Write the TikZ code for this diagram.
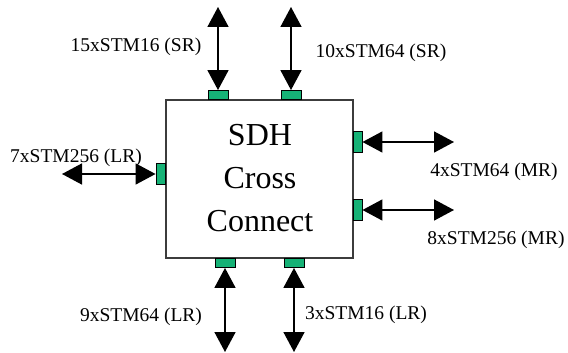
\documentclass[tikz,border=0pt]{standalone}
\usepackage{fontspec}
\setmainfont{Liberation Serif}
\usetikzlibrary{arrows.meta}
\definecolor{portgreen}{RGB}{22,178,118}
\definecolor{boxline}{RGB}{60,60,60}
\tikzset{
  port/.style={draw=black, line width=0.9pt, fill=portgreen, inner sep=0pt},
  hport/.style={port, minimum width=20pt, minimum height=9pt},
  vport/.style={port, minimum width=9pt, minimum height=21pt},
  link/.style={line width=1.6pt, {Triangle[length=20pt,width=21pt]}-{Triangle[length=20pt,width=21pt]}},
  lbl/.style={font=\fontsize{19.5}{21}\selectfont, inner sep=0pt},
  mainbox/.style={draw=boxline, line width=1.6pt, fill=white}
}
\begin{document}
\begin{tikzpicture}[x=1pt, y=-1pt]
\useasboundingbox (0,0) rectangle (568,353);
% main box
\node[mainbox, minimum width=187pt, minimum height=158pt, inner sep=0pt] (box) at (259.5,179) {};
\node[font=\fontsize{32}{43}\selectfont, align=center, inner sep=0pt] (title) at (260,178) {SDH\\Cross\\Connect};
% ports
\node[hport] (t1) at (218,95) {};
\node[hport] (t2) at (291,95) {};
\node[vport] (l1) at (160.5,174) {};
\node[vport] (r1) at (357.5,142) {};
\node[vport] (r2) at (357.5,210) {};
\node[hport] (b1) at (225,263) {};
\node[hport] (b2) at (294,263) {};
% free ends
\coordinate (et1) at (218,7);
\coordinate (et2) at (291,7);
\coordinate (el1) at (62,174);
\coordinate (er1) at (454,142);
\coordinate (er2) at (454,210);
\coordinate (eb1) at (225,352);
\coordinate (eb2) at (294,352);
% connectors
\draw[link] (t1.north) -- (et1);
\draw[link] (t2.north) -- (et2);
\draw[link] (l1.west) -- (el1);
\draw[link] (r1.east) -- (er1);
\draw[link] (r2.east) -- (er2);
\draw[link] (b1.south) -- (eb1);
\draw[link] (b2.south) -- (eb2);
% labels
\node[lbl] (lt1) at (136,47) {15xSTM16 (SR)};
\node[lbl] (lt2) at (381,53) {10xSTM64 (SR)};
\node[lbl] (ll1) at (76,158) {7xSTM256 (LR)};
\node[lbl] (lr1) at (494,172) {4xSTM64 (MR)};
\node[lbl] (lr2) at (496,240) {8xSTM256 (MR)};
\node[lbl] (lb1) at (141,317) {9xSTM64 (LR)};
\node[lbl] (lb2) at (366,315) {3xSTM16 (LR)};
\end{tikzpicture}
\end{document}
